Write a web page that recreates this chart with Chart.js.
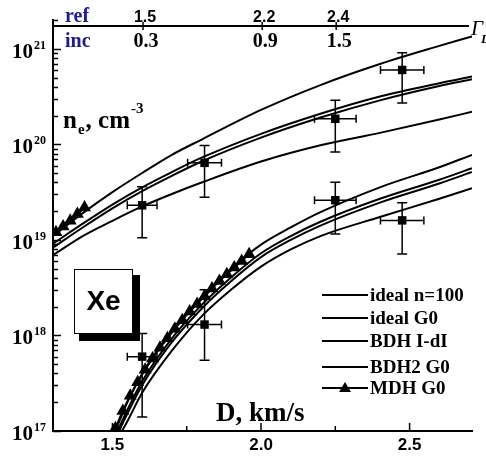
<!DOCTYPE html>
<html>
<head>
<meta charset="utf-8">
<script src="https://cdn.jsdelivr.net/npm/chart.js@4.4.0/dist/chart.umd.min.js"></script>
<style>
  html, body { margin: 0; padding: 0; background: #fff; }
</style>
</head>
<body>
<canvas id="myChart" width="486" height="464"></canvas>
<script>
// D, km/s grids of the computed curves
const dHi = [1.3, 1.4, 1.5, 1.6, 1.7, 1.8, 2.0, 2.2, 2.4, 2.6, 2.71];
const dLo = [1.51, 1.55, 1.6, 1.7, 1.8, 1.9, 2.0, 2.1, 2.2, 2.4, 2.6, 2.71];

// log10(ne, cm^-3), upper group of curves
const idealN100Hi = [19.04, 19.28, 19.50, 19.70, 19.89, 20.05, 20.36, 20.62, 20.84, 21.03, 21.13];
const idealG0Hi   = [18.96, 19.17, 19.37, 19.55, 19.71, 19.86, 20.11, 20.32, 20.50, 20.64, 20.71];
const bdhIdIHi    = [18.92, 19.13, 19.33, 19.51, 19.67, 19.82, 20.07, 20.28, 20.46, 20.61, 20.68];
const bdh2G0Hi    = [18.84, 19.04, 19.20, 19.35, 19.48, 19.60, 19.82, 19.99, 20.12, 20.26, 20.34];

// log10(ne, cm^-3), lower group of curves
const idealN100Lo = [17.00, 17.30, 17.60, 18.05, 18.40, 18.70, 18.95, 19.13, 19.29, 19.55, 19.76, 19.89];
const idealG0Lo   = [16.95, 17.22, 17.52, 17.97, 18.32, 18.61, 18.86, 19.04, 19.19, 19.43, 19.63, 19.75];
const bdhIdILo    = [16.92, 17.18, 17.48, 17.93, 18.28, 18.57, 18.82, 19.00, 19.15, 19.39, 19.59, 19.71];
const bdh2G0Lo    = [16.88, 17.10, 17.40, 17.84, 18.20, 18.48, 18.72, 18.90, 19.04, 19.24, 19.43, 19.54];

// MDH G0 (triangles)
const dMdhHi = [1.31, 1.334, 1.358, 1.382, 1.406];
const mdhHi  = [19.08, 19.14, 19.20, 19.27, 19.34];
const dMdhLo = [1.51, 1.535, 1.56, 1.585, 1.61, 1.635, 1.66, 1.685, 1.71, 1.735, 1.76, 1.785, 1.81, 1.835, 1.86, 1.885, 1.91, 1.935, 1.96];
const mdhLo  = [17.03, 17.21, 17.37, 17.51, 17.64, 17.76, 17.87, 17.97, 18.07, 18.16, 18.25, 18.33, 18.41, 18.49, 18.57, 18.64, 18.71, 18.78, 18.85];

// experiment
const expD    = [1.6, 1.81, 2.25, 2.475];
const expDErr = [0.05, 0.057, 0.07, 0.073];
const expHi    = [2.3e19, 6.4e19, 1.85e20, 6.0e20];
const expHiMin = [1.05e19, 2.8e19, 8.3e19, 2.7e20];
const expHiMax = [3.6e19, 9.7e19, 2.9e20, 9.1e20];
const expLo    = [6.0e17, 1.3e18, 2.6e19, 1.6e19];
const expLoMin = [1.4e17, 5.5e17, 1.15e19, 7.1e18];
const expLoMax = [1.05e18, 3.0e18, 4.0e19, 2.45e19];

// axes
const xTicks = [1.5, 1.75, 2.0, 2.25, 2.5];
const xTickLabels = ['1.5', '', '2.0', '', '2.5'];
const yDecades = [17, 18, 19, 20, 21];

// top axis (Gamma_D)
const gammaD   = [1.603, 2.004, 2.253];
const gammaRef = ['1.5', '2.2', '2.4'];
const gammaInc = ['0.3', '0.9', '1.5'];

const seriesNames = ['ideal n=100', 'ideal G0', 'BDH I-dI', 'BDH2 G0', 'MDH G0'];

const serif = '"Liberation Serif", "Times New Roman", serif';
const sans = '"Liberation Sans", Arial, sans-serif';

function pts(xs, logs) {
  return xs.map((x, i) => ({ x: x, y: Math.pow(10, logs[i]) }));
}
function curve(label, xs, logs) {
  return {
    label: label, data: pts(xs, logs), borderColor: '#000', borderWidth: 2,
    pointRadius: 0, tension: 0.4, cubicInterpolationMode: 'monotone', fill: false
  };
}
function mdh(xs, logs) {
  return {
    label: 'MDH G0', data: pts(xs, logs), borderColor: '#000', backgroundColor: '#000',
    borderWidth: 2, pointStyle: 'triangle', pointRadius: 5.5, tension: 0.4, fill: false
  };
}
function exper(vals) {
  return {
    label: 'exp', data: expD.map((d, i) => ({ x: d, y: vals[i] })), showLine: false,
    pointStyle: 'rect', pointRadius: 6, backgroundColor: '#000', borderColor: '#000', borderWidth: 0
  };
}

const yTickValues = [];
yDecades.forEach(e => {
  for (let m = 1; m <= 9; m++) {
    const v = m * Math.pow(10, e);
    if (v <= 2.0001e21) yTickValues.push(v);
  }
});

const errorBars = {
  id: 'errorBars',
  beforeDatasetsDraw(chart) {
    const { ctx, scales: { x, y } } = chart;
    ctx.save();
    ctx.strokeStyle = '#000';
    ctx.lineWidth = 1.5;
    [[expHi, expHiMin, expHiMax], [expLo, expLoMin, expLoMax]].forEach(([v, lo, hi]) => {
      expD.forEach((d, i) => {
        const px = x.getPixelForValue(d), py = y.getPixelForValue(v[i]);
        const y0 = y.getPixelForValue(lo[i]), y1 = y.getPixelForValue(hi[i]);
        const x0 = x.getPixelForValue(d - expDErr[i]), x1 = x.getPixelForValue(d + expDErr[i]);
        ctx.beginPath();
        ctx.moveTo(px, y0); ctx.lineTo(px, y1);
        ctx.moveTo(px - 5, y0); ctx.lineTo(px + 5, y0);
        ctx.moveTo(px - 5, y1); ctx.lineTo(px + 5, y1);
        ctx.moveTo(x0, py); ctx.lineTo(x1, py);
        ctx.moveTo(x0, py - 4); ctx.lineTo(x0, py + 4);
        ctx.moveTo(x1, py - 4); ctx.lineTo(x1, py + 4);
        ctx.stroke();
      });
    });
    ctx.restore();
  }
};

const decor = {
  id: 'decor',
  afterDraw(chart) {
    const { ctx, chartArea: a, scales: { x, y } } = chart;
    ctx.save();
    ctx.strokeStyle = '#000';
    ctx.fillStyle = '#000';
    ctx.lineWidth = 1.5;

    // x ticks (inside) and labels
    x.ticks.forEach((t, i) => {
      const px = x.getPixelForValue(t.value);
      const len = xTickLabels[i] ? 8 : 5;
      ctx.beginPath(); ctx.moveTo(px, a.bottom); ctx.lineTo(px, a.bottom - len); ctx.stroke();
      if (xTickLabels[i]) {
        ctx.font = 'bold 17px ' + sans;
        ctx.textAlign = 'center';
        ctx.textBaseline = 'alphabetic';
        ctx.fillText(xTickLabels[i], px, a.bottom + 19);
      }
    });

    // y ticks (inside) and labels 10^n
    y.ticks.forEach(t => {
      const py = Math.round(y.getPixelForValue(t.value)) + 0.5;
      const e = Math.floor(Math.log10(t.value) + 1e-9);
      const major = Math.abs(t.value / Math.pow(10, e) - 1) < 1e-6;
      ctx.beginPath(); ctx.moveTo(a.left, py); ctx.lineTo(a.left + (major ? 8 : 5), py); ctx.stroke();
      if (major) {
        ctx.textAlign = 'left';
        ctx.textBaseline = 'alphabetic';
        ctx.font = 'bold 21px ' + serif;
        ctx.fillText('10', 12, py + 8);
        const w = ctx.measureText('10').width;
        ctx.font = 'bold 12px ' + serif;
        ctx.fillText(String(e), 13 + w, py - 1);
      }
    });

    // top Gamma_D axis
    const yl = a.top + 6;
    ctx.lineWidth = 2;
    ctx.beginPath(); ctx.moveTo(a.left, yl); ctx.lineTo(a.right - 3, yl); ctx.stroke();
    ctx.lineWidth = 1.5;
    gammaD.forEach((d, i) => {
      const px = x.getPixelForValue(d);
      ctx.beginPath(); ctx.moveTo(px, yl - 4); ctx.lineTo(px, yl + 4); ctx.stroke();
      ctx.textAlign = 'center';
      ctx.font = 'bold 16px ' + sans;
      ctx.fillText(gammaRef[i], px + 2, 22);
      ctx.font = 'bold 20px ' + serif;
      ctx.fillText(gammaInc[i], px + 3, 47);
    });
    ctx.textAlign = 'left';
    ctx.fillStyle = '#1c1c8c';
    ctx.font = 'bold 20px ' + serif;
    ctx.fillText('ref', 65, 22);
    ctx.fillText('inc', 65, 47);
    ctx.fillStyle = '#000';
    ctx.font = 'italic 21px ' + serif;
    ctx.fillText('\u0393', 471, 35);
    ctx.font = 'italic bold 13px ' + serif;
    ctx.fillText('D', 481, 43);

    // axis titles
    ctx.font = 'bold 25px ' + serif;
    ctx.fillText('n', 63, 128);
    let w = ctx.measureText('n').width;
    ctx.font = 'bold 15px ' + serif;
    ctx.fillText('e', 63 + w + 1, 134);
    const we = ctx.measureText('e').width;
    ctx.font = 'bold 25px ' + serif;
    ctx.fillText(', cm', 63 + w + we + 2, 128);
    const wc = ctx.measureText(', cm').width;
    ctx.font = 'bold 15px ' + serif;
    ctx.fillText('-3', 63 + w + we + wc + 3, 113);
    ctx.font = 'bold 27px ' + serif;
    ctx.fillText('D, km/s', 216, 421);

    // Xe box with shadow
    ctx.fillStyle = '#000';
    ctx.fillRect(79, 275, 61, 66);
    ctx.fillStyle = '#fff';
    ctx.fillRect(74, 269, 59, 65);
    ctx.lineWidth = 1;
    ctx.strokeRect(74.5, 269.5, 58, 64);
    ctx.fillStyle = '#000';
    ctx.font = 'bold 28px ' + sans;
    ctx.textAlign = 'center';
    ctx.textBaseline = 'middle';
    ctx.fillText('Xe', 103.5, 302);

    // legend
    const ly = [295, 318, 341, 367, 388];
    ctx.textAlign = 'left';
    ctx.font = 'bold 19px ' + serif;
    seriesNames.forEach((name, i) => {
      ctx.lineWidth = 2;
      ctx.beginPath(); ctx.moveTo(322, ly[i]); ctx.lineTo(368, ly[i]); ctx.stroke();
      if (name === 'MDH G0') {
        ctx.beginPath();
        ctx.moveTo(345, ly[i] - 6); ctx.lineTo(351, ly[i] + 4); ctx.lineTo(339, ly[i] + 4);
        ctx.closePath(); ctx.fill();
      }
      ctx.fillText(name, 370, ly[i] + 1);
    });
    ctx.restore();
  }
};

const ctx = document.getElementById('myChart').getContext('2d');
const myChart = new Chart(ctx, {
  type: 'line',
  data: {
    datasets: [
      exper(expHi), exper(expLo),
      mdh(dMdhHi, mdhHi), mdh(dMdhLo, mdhLo),
      curve(seriesNames[0], dHi, idealN100Hi), curve(seriesNames[1], dHi, idealG0Hi),
      curve(seriesNames[2], dHi, bdhIdIHi), curve(seriesNames[3], dHi, bdh2G0Hi),
      curve(seriesNames[0], dLo, idealN100Lo), curve(seriesNames[1], dLo, idealG0Lo),
      curve(seriesNames[2], dLo, bdhIdILo), curve(seriesNames[3], dLo, bdh2G0Lo)
    ]
  },
  options: {
    responsive: false,
    animation: false,
    devicePixelRatio: 1,
    layout: { padding: { left: 53, right: 14, top: 20, bottom: 33 } },
    plugins: { legend: { display: false }, tooltip: { enabled: false } },
    scales: {
      x: {
        type: 'linear', min: 1.3, max: 2.71,
        afterBuildTicks: s => { s.ticks = xTicks.map(v => ({ value: v })); },
        ticks: { display: false },
        grid: { display: false, drawTicks: false },
        border: { display: true, color: '#000', width: 2 }
      },
      y: {
        type: 'logarithmic', min: 1e17, max: 2e21,
        afterBuildTicks: s => { s.ticks = yTickValues.map(v => ({ value: v })); },
        ticks: { display: false },
        grid: { display: false, drawTicks: false },
        border: { display: true, color: '#000', width: 2 }
      }
    }
  },
  plugins: [errorBars, decor]
});
</script>
</body>
</html>
